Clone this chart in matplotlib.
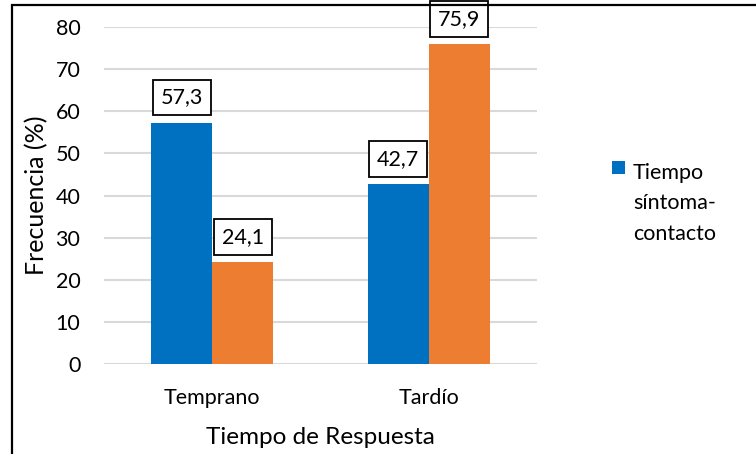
import matplotlib.pyplot as plt
import numpy as np
from matplotlib.patches import Rectangle

plt.rcParams['font.family'] = ['Lato', 'DejaVu Sans']

categorias = ['Temprano', 'Tardío']
sintoma_contacto = [57.3, 42.7]
segunda_serie = [24.1, 75.9]
yticks = [0, 10, 20, 30, 40, 50, 60, 70, 80]

azul = '#0070C0'
naranja = '#ED7D31'

fig = plt.figure(figsize=(7.56, 4.54), dpi=100)
ax = fig.add_axes([104 / 756, 1 - 364 / 454, 433 / 756, 337 / 454])

x = np.arange(len(categorias))
w = 0.282
b1 = ax.bar(x - w / 2, sintoma_contacto, w, color=azul, zorder=3)
b2 = ax.bar(x + w / 2, segunda_serie, w, color=naranja, zorder=3)

# etiquetas con recuadro sobre cada barra
for bars, vals in ((b1, sintoma_contacto), (b2, segunda_serie)):
    for rect, v in zip(bars, vals):
        ax.annotate(f'{v:.1f}'.replace('.', ','),
                    (rect.get_x() + rect.get_width() / 2, v),
                    xytext=(0, 11), textcoords='offset points',
                    ha='center', va='bottom', fontsize=15.5, zorder=5,
                    annotation_clip=False,
                    bbox=dict(boxstyle='square,pad=0.36', fc='white', ec='black', lw=1.3))

ax.set_xlim(-0.5, 1.5)
ax.set_ylim(0, 80)
ax.set_yticks(yticks)
ax.set_xticks(x)
ax.set_xticklabels(categorias)
ax.tick_params(length=0, labelsize=15.5)
ax.tick_params(axis='y', pad=17)
ax.tick_params(axis='x', pad=17)
ax.yaxis.grid(True, color='#D9D9D9', lw=1.5, zorder=0)
ax.set_axisbelow(True)
for s in ax.spines.values():
    s.set_visible(False)

ax.set_ylabel('Frecuencia (%)', fontsize=18, labelpad=5)
ax.set_xlabel('Tiempo de Respuesta', fontsize=17.5, labelpad=14)

# leyenda solo para la serie azul, marcador junto a la primera línea
leg = fig.legend([b1], ['Tiempo\nsíntoma-\ncontacto'], loc='center left',
                 bbox_to_anchor=(593 / 756, 1 - 167 / 454), frameon=False,
                 fontsize=15.5, handlelength=0.6, handleheight=0.6,
                 handletextpad=0.35)
for t in leg.get_texts():
    t.set_linespacing(1.65)
    t.set_va('center')

# marco exterior
fig.patches.append(Rectangle((12 / 756, -0.1), 1.2, 1 - 5 / 454 + 0.1,
                             transform=fig.transFigure, fill=False,
                             ec='black', lw=1.6))

fig.savefig('out.png', dpi=100)
